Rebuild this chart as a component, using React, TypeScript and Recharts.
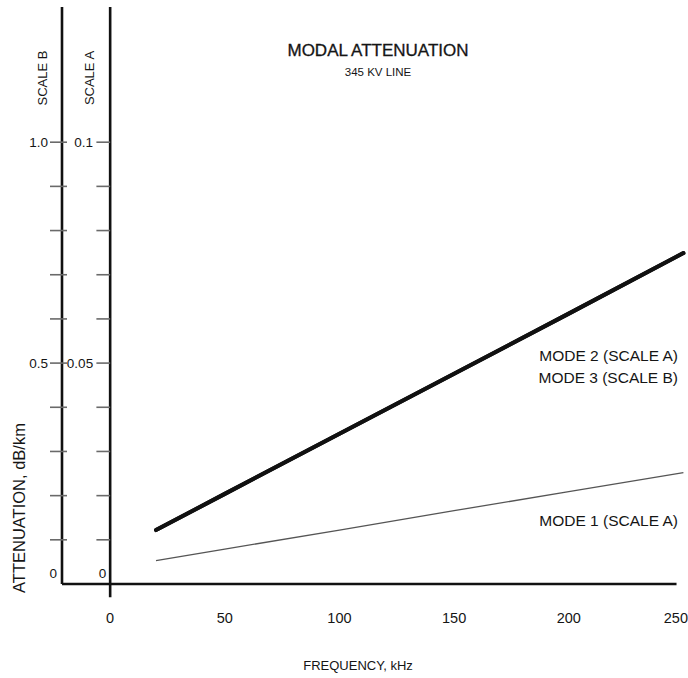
import React from 'react';
import { LineChart, Line, XAxis, YAxis, ReferenceLine, ReferenceDot } from 'recharts';

// Frequency (kHz) and attenuation (dB/km)
const frequencies = [20, 50, 100, 150, 200, 250];
const mode1ScaleA = [0.0053, 0.0079, 0.0122, 0.0166, 0.0209, 0.0252];
const mode2ScaleA = [0.0122, 0.0204, 0.034, 0.0476, 0.0612, 0.0749];
const mode3ScaleB = [0.122, 0.204, 0.34, 0.476, 0.612, 0.749];

const xTicks = [0, 50, 100, 150, 200, 250];
const scaleBTicks = [0, 0.1, 0.2, 0.3, 0.4, 0.5, 0.6, 0.7, 0.8, 0.9, 1.0];
const scaleBLabelValues = [0, 0.5, 1.0];
const scaleBLabelTexts = ['0', '0.5', '1.0'];
const scaleATicks = [0.01, 0.02, 0.03, 0.04, 0.05, 0.06, 0.07, 0.08, 0.09, 0.1];
const scaleALabelValues = [0, 0.05, 0.1];
const scaleALabelTexts = ['0', '0.05', '0.1'];

const data = frequencies.map((f, i) => ({
  f,
  mode1: mode1ScaleA[i],
  mode2: mode2ScaleA[i],
  mode3: mode3ScaleB[i],
}));

const FONT = '"Liberation Sans", Arial, Helvetica, sans-serif';
const TEXT = '#151515';
const TICK = '#6a6a6a';

const ScaleBTick = (props: any) => {
  const { x, y, payload } = props;
  const v = payload.value;
  const idx = scaleBLabelValues.indexOf(v);
  return (
    <g>
      {v !== 0 && <line x1={x - 12} x2={x + 5} y1={y} y2={y} stroke={TICK} strokeWidth={1.6} />}
      {idx >= 0 && (
        <text
          x={v === 0 ? x - 5 : x - 14}
          y={v === 0 ? y - 6 : y + 5}
          textAnchor="end"
          fontSize={13.5}
          fill={TEXT}
          fontFamily={FONT}
        >
          {scaleBLabelTexts[idx]}
        </text>
      )}
    </g>
  );
};

const XTick = (props: any) => {
  const { x, y, payload } = props;
  const overflow = x + 12 > 688;
  return (
    <text
      x={overflow ? 688 : x}
      y={y + 39}
      textAnchor={overflow ? 'end' : 'middle'}
      fontSize={14.5}
      fill={TEXT}
      fontFamily={FONT}
    >
      {payload.value}
    </text>
  );
};

export default function App() {
  return (
    <div style={{ position: 'absolute', left: 0, top: 0, width: 688, height: 678, background: '#fff', fontFamily: FONT }}>
      <LineChart width={688} height={678} data={data} margin={{ top: 7, right: 0, left: 0, bottom: 34 }}>
        <XAxis
          dataKey="f"
          type="number"
          domain={[-21, 252]}
          allowDataOverflow
          ticks={xTicks}
          interval={0}
          axisLine={false}
          tickLine={false}
          tickSize={0}
          tickMargin={0}
          height={60}
          tick={<XTick />}
        />
        <YAxis
          yAxisId="B"
          type="number"
          domain={[0, 1.306]}
          allowDataOverflow
          ticks={scaleBTicks}
          interval={0}
          width={62}
          axisLine={{ stroke: '#111', strokeWidth: 2.6 }}
          tickLine={false}
          tickSize={0}
          tickMargin={0}
          tick={<ScaleBTick />}
        />
        <YAxis yAxisId="A" type="number" domain={[0, 0.1306]} allowDataOverflow hide width={0} />

        {/* Bottom frequency axis line */}
        <ReferenceLine
          yAxisId="A"
          segment={[{ x: -21, y: 0 }, { x: 247, y: 0 }]}
          stroke="#111"
          strokeWidth={2.6}
          ifOverflow="visible"
        />
        {/* Scale A axis at 0 kHz */}
        <ReferenceLine
          yAxisId="A"
          segment={[{ x: 0, y: -0.003 }, { x: 0, y: 0.1306 }]}
          stroke="#111"
          strokeWidth={2.6}
          ifOverflow="visible"
        />
        {scaleATicks.map((v, i) => (
          <ReferenceLine
            key={'at' + i}
            yAxisId="A"
            segment={[{ x: -6, y: v }, { x: 0, y: v }]}
            stroke={TICK}
            strokeWidth={1.6}
            ifOverflow="visible"
          />
        ))}
        {scaleALabelValues.map((v, i) => (
          <ReferenceDot
            key={'al' + i}
            yAxisId="A"
            x={0}
            y={v}
            r={0}
            fill="none"
            stroke="none"
            ifOverflow="visible"
            label={(p: any) => {
              const vb = p.viewBox || {};
              const cx = vb.x ?? 0;
              const cy = vb.y ?? 0;
              return (
                <text
                  x={v === 0 ? cx - 4 : cx - 17}
                  y={v === 0 ? cy - 6 : cy + 5}
                  textAnchor="end"
                  fontSize={13.5}
                  fill={TEXT}
                  fontFamily={FONT}
                >
                  {scaleALabelTexts[i]}
                </text>
              );
            }}
          />
        ))}

        <Line
          yAxisId="A"
          type="linear"
          dataKey="mode1"
          stroke="#555"
          strokeWidth={1.3}
          dot={false}
          isAnimationActive={false}
        />
        <Line
          yAxisId="B"
          type="linear"
          dataKey="mode3"
          stroke="#111"
          strokeWidth={4}
          strokeLinecap="round"
          dot={false}
          isAnimationActive={false}
        />
        <Line
          yAxisId="A"
          type="linear"
          dataKey="mode2"
          stroke="#111"
          strokeWidth={4}
          strokeLinecap="round"
          dot={false}
          isAnimationActive={false}
        />

        <text x={378} y={56} textAnchor="middle" fontSize={17} fill={TEXT} fontFamily={FONT} stroke={TEXT} strokeWidth={0.3}>
          MODAL ATTENUATION
        </text>
        <text x={378} y={76} textAnchor="middle" fontSize={11.5} fill={TEXT} fontFamily={FONT}>
          345 KV LINE
        </text>
        <text x={678} y={361} textAnchor="end" fontSize={15.5} fill={TEXT} fontFamily={FONT}>
          MODE 2 (SCALE A)
        </text>
        <text x={678} y={383} textAnchor="end" fontSize={15.5} fill={TEXT} fontFamily={FONT}>
          MODE 3 (SCALE B)
        </text>
        <text x={678} y={526} textAnchor="end" fontSize={15.5} fill={TEXT} fontFamily={FONT}>
          MODE 1 (SCALE A)
        </text>
        <text x={358} y={670} textAnchor="middle" fontSize={13} fill={TEXT} fontFamily={FONT}>
          FREQUENCY, kHz
        </text>
        <text
          x={25}
          y={508}
          textAnchor="middle"
          fontSize={16.5}
          fill={TEXT}
          fontFamily={FONT}
          transform="rotate(-90 25 508)"
        >
          ATTENUATION, dB/km
        </text>
        <text x={47} y={78} textAnchor="middle" fontSize={13} fill={TEXT} fontFamily={FONT} transform="rotate(-90 47 78)">
          SCALE B
        </text>
        <text x={94} y={78} textAnchor="middle" fontSize={13} fill={TEXT} fontFamily={FONT} transform="rotate(-90 94 78)">
          SCALE A
        </text>
      </LineChart>
    </div>
  );
}
